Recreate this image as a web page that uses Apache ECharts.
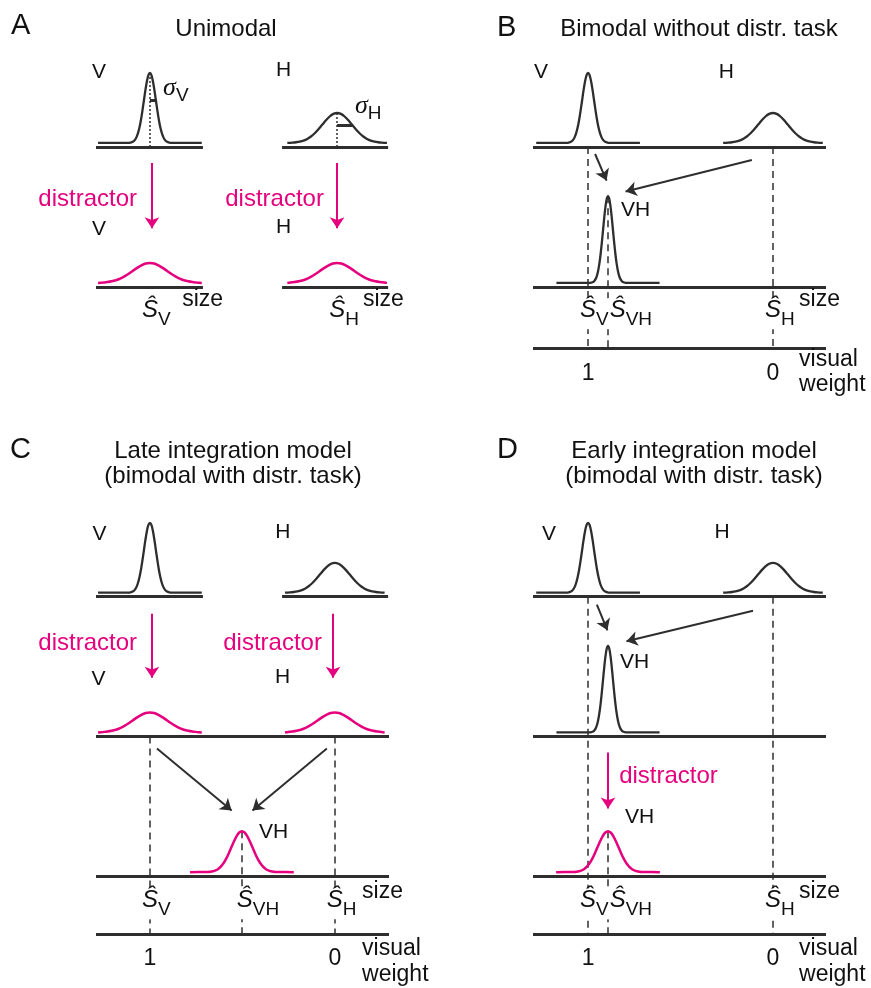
<!DOCTYPE html>
<html><head><meta charset="utf-8">
<script src="https://cdn.jsdelivr.net/npm/echarts@6/dist/echarts.min.js"></script>
<style>html,body{margin:0;padding:0;background:#fff}#c{width:871px;height:988px}</style>
</head><body><div id="c"></div>
<script>
// ================= DATA =================
const panelLetters = ['A', 'B', 'C', 'D'];
const panelTitles = [
  'Unimodal',
  'Bimodal without distr. task',
  'Late integration model\n(bimodal with distr. task)',
  'Early integration model\n(bimodal with distr. task)'
];
// size estimates on each panel's size axis (0..100)
const estV  = [18.4, 18.8, 18.4, 18.8];
const estH  = [82.3, 81.9, 81.5, 81.9];
const estVH = [null, 25.6, 49.8, 25.6];
// visual weight tick labels (at the V and H estimates)
const weightTickLabels = ['1', '0'];
// likelihood curves: width (sigma, size units), peak height (row units), half extent
const curveKeys     = ['V',  'H',   'VH', 'Vd',  'Hd',  'VHd'];
const curveSigma    = [2.05, 5.1,   1.7,  5.8,   5.8,   3.6];
const curvePeak     = [0.50, 0.214, 0.62, 0.143, 0.143, 0.293];
const curveHalfSpan = [17.7, 17.0,  17.6, 17.7,  17.0,  17.7];
// bell profile: offsets (in widths) and relative heights
const bellOffsets = [-3.5,-3.25,-3,-2.75,-2.5,-2.25,-2,-1.75,-1.5,-1.25,-1,-0.75,-0.5,-0.25,0,
                     0.25,0.5,0.75,1,1.25,1.5,1.75,2,2.25,2.5,2.75,3,3.25,3.5];
const bellHeights = [0.0022,0.0051,0.0111,0.0228,0.0439,0.0796,0.1353,0.2163,0.3247,0.4578,0.6065,0.7548,0.8825,0.9692,1,
                     0.9692,0.8825,0.7548,0.6065,0.4578,0.3247,0.2163,0.1353,0.0796,0.0439,0.0228,0.0111,0.0051,0.0022];

// ================= LAYOUT / STYLE =================
const INK = '#2e2e2e', MAG = '#e5007e', TXT = '#111111';
const FONT = '"Liberation Sans", Arial, Helvetica, sans-serif';
const TAIL = 0.029; // curve tail sits just above its axis

const panels = [
  { grid: {left: 96, top: 7, width: 293, height: 392}, y: [-0.8, 2],
    axes: [[1, 0, 36.5], [1, 63.5, 99.7], [0, 0, 36.5], [0, 63.5, 99.7]],
    curves: [['V', 'V', 1], ['H', 'H', 1], ['Vd', 'V', 0], ['Hd', 'H', 0]],
    weight: null },
  { grid: {left: 533, top: 7, width: 293, height: 392}, y: [-0.8, 2],
    axes: [[1, 0, 100], [0, 0, 100]],
    curves: [['V', 'V', 1], ['H', 'H', 1], ['VH', 'VH', 0]],
    weight: -0.436 },
  { grid: {left: 96, top: 457, width: 293, height: 532}, y: [-0.8, 3],
    axes: [[2, 0, 36.5], [2, 63.5, 99.7], [1, 0, 100], [0, 0, 100]],
    curves: [['V', 'V', 2], ['H', 'H', 2], ['Vd', 'V', 1], ['Hd', 'H', 1], ['VHd', 'VH', 0]],
    weight: -0.414 },
  { grid: {left: 533, top: 457, width: 293, height: 532}, y: [-0.8, 3],
    axes: [[2, 0, 100], [1, 0, 100], [0, 0, 100]],
    curves: [['V', 'V', 2], ['H', 'H', 2], ['VH', 'VH', 1], ['VHd', 'VH', 0]],
    weight: -0.414 }
];

function est(p, k) { return k === 'V' ? estV[p] : k === 'H' ? estH[p] : estVH[p]; }
function cIdx(k) { return curveKeys.indexOf(k); }
function peakLevel(k, row) { return row + TAIL + curvePeak[cIdx(k)]; }

function bellPoints(center, key, row) {
  const i = cIdx(key), s = curveSigma[i], h = curvePeak[i], span = curveHalfSpan[i];
  const base = row + TAIL;
  const pts = [[center - span, base]];
  bellOffsets.forEach((o, j) => {
    if (Math.abs(o * s) < span - 0.8) pts.push([center + o * s, base + h * bellHeights[j]]);
  });
  pts.push([center + span, base]);
  return pts;
}

// label definitions: [text, x, y, kind, align, verticalAlign]
function panelLabels(p) {
  const L = [];
  if (p === 0) {
    L.push(['V', 1.0, 1.531, 'lab', 'center', 'middle'], ['H', 64.0, 1.546, 'lab', 'center', 'middle'],
           ['distractor', 14.0, 0.624, 'dis', 'right', 'middle'], ['distractor', 77.8, 0.624, 'dis', 'right', 'middle'],
           ['V', 1.0, 0.410, 'lab', 'center', 'middle'], ['H', 64.0, 0.424, 'lab', 'center', 'middle'],
           ['size', 29.4, -0.093, 'txt', 'left', 'middle'], ['size', 91.1, -0.093, 'txt', 'left', 'middle']);
  } else if (p === 1) {
    L.push(['V', 2.73, 1.531, 'lab', 'center', 'middle'], ['H', 66.0, 1.531, 'lab', 'center', 'middle'],
           ['VH', 30.0, 0.546, 'lab', 'left', 'middle'],
           ['size', 90.8, -0.093, 'txt', 'left', 'middle'],
           ['visual', 90.8, -0.521, 'txt', 'left', 'middle'], ['weight', 90.8, -0.699, 'txt', 'left', 'middle'],
           [weightTickLabels[0], estV[p], -0.621, 'txt', 'center', 'middle'],
           [weightTickLabels[1], estH[p], -0.621, 'txt', 'center', 'middle']);
  } else if (p === 2) {
    L.push(['V', 1.19, 2.446, 'lab', 'center', 'middle'], ['H', 63.8, 2.460, 'lab', 'center', 'middle'],
           ['distractor', 14.0, 1.667, 'dis', 'right', 'middle'], ['distractor', 77.1, 1.667, 'dis', 'right', 'middle'],
           ['V', 0.85, 1.410, 'lab', 'center', 'middle'], ['H', 63.7, 1.424, 'lab', 'center', 'middle'],
           ['VH', 55.6, 0.317, 'lab', 'left', 'middle'],
           ['size', 90.8, -0.107, 'txt', 'left', 'middle'],
           ['visual', 90.8, -0.521, 'txt', 'left', 'middle'], ['weight', 90.8, -0.706, 'txt', 'left', 'middle'],
           [weightTickLabels[0], estV[p], -0.593, 'txt', 'center', 'middle'],
           [weightTickLabels[1], estH[p], -0.593, 'txt', 'center', 'middle']);
  } else {
    L.push(['V', 5.46, 2.446, 'lab', 'center', 'middle'], ['H', 64.5, 2.460, 'lab', 'center', 'middle'],
           ['VH', 29.7, 1.531, 'lab', 'left', 'middle'],
           ['distractor', 29.4, 0.717, 'dis', 'left', 'middle'],
           ['VH', 31.4, 0.424, 'lab', 'left', 'middle'],
           ['size', 90.8, -0.107, 'txt', 'left', 'middle'],
           ['visual', 90.8, -0.521, 'txt', 'left', 'middle'], ['weight', 90.8, -0.706, 'txt', 'left', 'middle'],
           [weightTickLabels[0], estV[p], -0.593, 'txt', 'center', 'middle'],
           [weightTickLabels[1], estH[p], -0.593, 'txt', 'center', 'middle']);
  }
  return L;
}
// estimate labels (S-hat): [subscript, x, y]
function estLabels(p) {
  const y = p < 2 ? -0.080 : -0.087;
  const L = [['V', estV[p], y], ['H', estH[p], y]];
  if (estVH[p] !== null) L.push(['VH', estVH[p] + (p === 2 ? 1.0 : 3.3), y]);
  return L;
}
// arrows: [x1, y1, x2, y2, colour]
const panelArrows = [
  [[19.1, 0.886, 19.1, 0.42, MAG], [82.3, 0.886, 82.3, 0.42, MAG]],
  [[21.2, 0.95, 25.1, 0.76, INK], [74.7, 0.907, 31.6, 0.682, INK]],
  [[19.1, 1.879, 19.1, 1.42, MAG], [80.9, 1.879, 80.9, 1.42, MAG],
   [20.8, 0.914, 46.3, 0.47, INK], [78.8, 0.914, 53.4, 0.47, INK]],
  [[21.8, 1.943, 25.4, 1.76, INK], [75.1, 1.90, 31.9, 1.682, INK], [25.6, 0.886, 25.6, 0.485, MAG]]
];

const kindStyle = {
  lab: {fontSize: 21, color: TXT},
  dis: {fontSize: 24, color: MAG},
  txt: {fontSize: 23, color: TXT}
};

// ================= BUILD =================
const grid = [], xAxis = [], yAxis = [], series = [];
panels.forEach((P, p) => {
  grid.push(Object.assign({containLabel: false}, P.grid));
  xAxis.push({type: 'value', gridIndex: p, min: 0, max: 100, show: false});
  yAxis.push({type: 'value', gridIndex: p, min: P.y[0], max: P.y[1], show: false});
  const ax = {xAxisIndex: p, yAxisIndex: p};

  // axis baselines
  const axData = P.axes.map(a => ({coords: [[a[1], a[0]], [a[2], a[0]]]}));
  if (P.weight !== null) axData.push({coords: [[0, P.weight], [100, P.weight]]});
  series.push(Object.assign({type: 'lines', coordinateSystem: 'cartesian2d', silent: true, z: 3,
    lineStyle: {color: INK, width: 3, opacity: 1}, data: axData}, ax));

  // curves
  P.curves.forEach(c => {
    const magenta = c[0].endsWith('d');
    series.push(Object.assign({type: 'line', silent: true, symbol: 'none', smooth: 0.3, z: 4,
      lineStyle: {color: magenta ? MAG : INK, width: magenta ? 2.5 : 2.3, opacity: 1},
      data: bellPoints(est(p, c[1]), c[0], c[2])}, ax));
  });

  // guide lines
  const dashed = [];
  if (p === 0) {
    [['V', 1], ['H', 1]].forEach(([k, r]) => dashed.push({coords: [[est(p, k), r], [est(p, k), peakLevel(k, r)]]}));
    series.push(Object.assign({type: 'lines', coordinateSystem: 'cartesian2d', silent: true, z: 2,
      lineStyle: {color: INK, width: 1.5, type: [2, 2], opacity: 1}, data: dashed}, ax));
    // sigma bars
    const bars = [['V', 1], ['H', 1]].map(([k, r]) => {
      const i = cIdx(k), yv = r + TAIL + curvePeak[i] * 0.6065;
      return {coords: [[est(p, k), yv], [est(p, k) + curveSigma[i], yv]]};
    });
    series.push(Object.assign({type: 'lines', coordinateSystem: 'cartesian2d', silent: true, z: 5,
      lineStyle: {color: INK, width: 3, opacity: 1}, data: bars}, ax));
  } else {
    const top = p === 1 ? 1 : (p === 2 ? 1 : 2);
    dashed.push({coords: [[estV[p], top], [estV[p], P.weight]]});
    dashed.push({coords: [[estH[p], top], [estH[p], P.weight]]});
    const vhTop = p === 1 ? peakLevel('VH', 0) : peakLevel('VHd', 0);
    dashed.push({coords: [[estVH[p], vhTop], [estVH[p], P.weight]]});
    series.push(Object.assign({type: 'lines', coordinateSystem: 'cartesian2d', silent: true, z: 2,
      lineStyle: {color: INK, width: 1.5, type: [7, 5], opacity: 1}, data: dashed}, ax));
  }

  // arrows
  [INK, MAG].forEach(col => {
    const d = panelArrows[p].filter(a => a[4] === col).map(a => ({coords: [[a[0], a[1]], [a[2], a[3]]]}));
    if (!d.length) return;
    series.push(Object.assign({type: 'lines', coordinateSystem: 'cartesian2d', silent: true, z: 6,
      symbol: ['none', 'arrow'], symbolSize: 11,
      lineStyle: {color: col, width: 2, opacity: 1}, data: d}, ax));
  });

  // plain text labels
  const labData = panelLabels(p).map(l => ({
    value: [l[1], l[2]],
    label: Object.assign({show: true, formatter: l[0], position: [0, 0], align: l[4], verticalAlign: l[5],
      fontFamily: FONT, opacity: 1}, kindStyle[l[3]])
  }));
  // estimate labels S-hat with subscripts
  estLabels(p).forEach(e => labData.push({
    value: [e[1], e[2]],
    label: {show: true, formatter: '{s|Ŝ}{b|' + e[0] + '}', position: [0, 0], offset: [-9, 0], opacity: 1,
      align: 'left', verticalAlign: 'top', backgroundColor: '#fff', padding: [0, 1, 0, 1],
      rich: {
        s: {fontSize: 24, fontStyle: 'italic', fontFamily: FONT, color: TXT, verticalAlign: 'top'},
        b: {fontSize: 19, fontFamily: FONT, color: TXT, lineHeight: 31, verticalAlign: 'bottom'}
      }}
  }));
  if (p === 0) {
    [['V', 22.9, 1.514], ['H', 88.4, 1.386]].forEach(s => labData.push({
      value: [s[1], s[2]],
      label: {show: true, formatter: '{s|σ}{b|' + s[0] + '}', position: [0, 0], align: 'left', verticalAlign: 'top', opacity: 1,
        rich: {
          s: {fontSize: 26, fontStyle: 'italic', fontFamily: '"Liberation Serif", "Times New Roman", serif', color: TXT, verticalAlign: 'top'},
          b: {fontSize: 19, fontFamily: FONT, color: TXT, lineHeight: 30, verticalAlign: 'bottom'}
        }}
    }));
  }
  series.push(Object.assign({type: 'scatter', silent: true, symbolSize: 0, z: 10,
    itemStyle: {opacity: 1}, data: labData}, ax));
});

const title = [];
const letterPos = [[11, 11], [497, 13], [10, 435], [497, 435]];
const titlePos = [[226, 17], [699, 17], [233, 439], [694, 439]];
panelLetters.forEach((t, i) => title.push({text: t, left: letterPos[i][0], top: letterPos[i][1], padding: 0,
  textAlign: 'left', textVerticalAlign: 'top',
  textStyle: {fontSize: 29, lineHeight: 29, fontWeight: 'normal', color: TXT, fontFamily: FONT}}));
panelTitles.forEach((t, i) => title.push({text: t, left: titlePos[i][0], top: titlePos[i][1], padding: 0,
  textAlign: 'center', textVerticalAlign: 'top',
  textStyle: {fontSize: 24, lineHeight: 25, fontWeight: 'normal', color: TXT, fontFamily: FONT}}));

const chart = echarts.init(document.getElementById('c'), null, {renderer: 'canvas'});
chart.setOption({backgroundColor: '#fff', animation: false, title, grid, xAxis, yAxis, series, tooltip: {show: false}});
</script></body></html>
